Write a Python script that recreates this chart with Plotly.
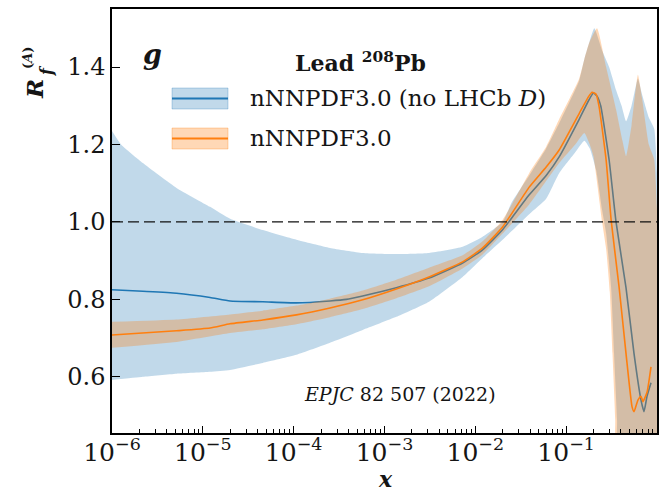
import plotly.graph_objects as go

# ---------------- data ----------------
# x given as log10(x)
blue_up_lx = [-6.0, -5.9, -5.66, -5.29, -4.92, -4.70, -4.34, -3.97, -3.60, -3.24, -2.87, -2.51, -2.14, -1.92,
              -1.70, -1.6, -1.407, -1.22, -1.077, -0.857, -0.80, -0.75, -0.69, -0.60, -0.527, -0.45, -0.39,
              -0.34, -0.28, -0.21, -0.165, -0.09, -0.03]
blue_up = [1.235, 1.20, 1.152, 1.088, 1.039, 1.008, 0.979, 0.954, 0.933, 0.92, 0.917, 0.92, 0.936, 0.962,
           1.0, 1.05, 1.12, 1.19, 1.255, 1.365, 1.42, 1.46, 1.50, 1.44, 1.40, 1.34, 1.30,
           1.26, 1.30, 1.37, 1.33, 1.27, 1.24]

blue_lo_lx = [-6.0, -5.66, -5.29, -4.92, -4.70, -4.34, -3.97, -3.60, -3.24, -2.87, -2.51, -2.14, -1.92,
              -1.70, -1.407, -1.22, -1.077, -0.90, -0.80, -0.74, -0.67, -0.604, -0.56, -0.505, -0.473,
              -0.44, -0.42, -0.03]
blue_lo = [0.592, 0.60, 0.608, 0.613, 0.618, 0.636, 0.657, 0.688, 0.721, 0.755, 0.794, 0.858, 0.907,
           0.954, 1.02, 1.06, 1.126, 1.18, 1.21, 1.19, 1.134, 1.03, 0.97, 0.83, 0.66,
           0.49, 0.30, 0.30]

orange_up_lx = [-6.0, -5.29, -4.70, -4.34, -3.97, -3.60, -3.24, -2.87, -2.51, -2.14, -1.92, -1.70, -1.407,
                -1.22, -1.077, -0.857, -0.80, -0.75, -0.66, -0.56, -0.45, -0.38, -0.34, -0.28, -0.21,
                -0.165, -0.09, -0.03]
orange_up = [0.742, 0.748, 0.761, 0.771, 0.784, 0.802, 0.823, 0.851, 0.882, 0.914, 0.95, 1.005, 1.126,
             1.194, 1.265, 1.37, 1.42, 1.46, 1.50, 1.40, 1.29, 1.21, 1.17, 1.25, 1.38,
             1.32, 1.20, 1.16]

orange_lo_lx = [-6.0, -5.29, -4.70, -4.34, -3.97, -3.60, -3.24, -2.87, -2.51, -2.14, -1.92, -1.70, -1.407,
                -1.077, -0.90, -0.80, -0.74, -0.70, -0.604, -0.56, -0.52, -0.49, -0.46, -0.44, -0.03]
orange_lo = [0.675, 0.69, 0.713, 0.723, 0.736, 0.754, 0.775, 0.803, 0.834, 0.88, 0.916, 0.97, 1.045,
             1.152, 1.20, 1.23, 1.20, 1.17, 1.0, 0.93, 0.82, 0.66, 0.49, 0.30, 0.30]

blue_c_lx = [-6.0, -5.66, -5.29, -4.92, -4.70, -4.34, -3.97, -3.60, -3.42, -3.24, -2.87, -2.51, -2.14, -1.92,
             -1.70, -1.60, -1.407, -1.22, -1.077, -0.857, -0.75, -0.70, -0.66, -0.62, -0.527, -0.451,
             -0.341, -0.253, -0.176, -0.143, -0.11, -0.066]
blue_c = [0.825, 0.821, 0.816, 0.805, 0.796, 0.794, 0.791, 0.796, 0.80, 0.809, 0.83, 0.855, 0.894, 0.928,
          0.98, 1.01, 1.07, 1.12, 1.168, 1.265, 1.315, 1.333, 1.325, 1.30, 1.16, 1.0,
          0.83, 0.66, 0.54, 0.51, 0.55, 0.585]

orange_c_lx = [-6.0, -5.29, -4.92, -4.70, -4.34, -3.97, -3.60, -3.24, -2.87, -2.51, -2.14, -1.92, -1.70,
               -1.407, -1.22, -1.077, -0.857, -0.75, -0.714, -0.67, -0.637, -0.56, -0.505, -0.418, -0.341,
               -0.275, -0.253, -0.21, -0.176, -0.155, -0.11, -0.066]
orange_c = [0.708, 0.719, 0.726, 0.737, 0.747, 0.76, 0.778, 0.799, 0.827, 0.858, 0.897, 0.933, 0.987,
            1.09, 1.142, 1.186, 1.28, 1.325, 1.335, 1.33, 1.297, 1.16, 1.005, 0.833, 0.66,
            0.523, 0.51, 0.54, 0.55, 0.536, 0.56, 0.626]

reference_level = 1.0

x_tick_vals = [1e-6, 1e-5, 1e-4, 1e-3, 1e-2, 1e-1, 1]
x_tick_text = ["10<sup>\u22126</sup>", "10<sup>\u22125</sup>", "10<sup>\u22124</sup>", "10<sup>\u22123</sup>",
               "10<sup>\u22122</sup>", "10<sup>\u22121</sup>", "1"]
y_tick_vals = [0.6, 0.8, 1.0, 1.2, 1.4]
y_tick_text = ["0.6", "0.8", "1.0", "1.2", "1.4"]

label_blue = "nNNPDF3.0 (no LHCb <i>D</i>)"
label_orange = "nNNPDF3.0"

# ---------------- figure ----------------
C0 = "#1f77b4"
C1 = "#ff7f0e"
C0_FILL = "rgba(31,119,180,0.28)"
C1_FILL = "rgba(255,127,14,0.30)"
SER = "DejaVu Serif"
TXT = "#151515"


def X(lx):
    return [10 ** v for v in lx]


SPL = dict(shape="spline", smoothing=0.45)

fig = go.Figure()
fig.add_trace(go.Scatter(x=X(blue_up_lx) + X(blue_lo_lx)[::-1], y=blue_up + blue_lo[::-1],
                         fill="toself", fillcolor=C0_FILL, mode="none", hoverinfo="skip",
                         line=SPL))
fig.add_trace(go.Scatter(x=X(blue_c_lx), y=blue_c, mode="lines",
                         line=dict(color=C0, width=1.6, **SPL)))
fig.add_trace(go.Scatter(x=X(orange_up_lx) + X(orange_lo_lx)[::-1], y=orange_up + orange_lo[::-1],
                         fill="toself", fillcolor=C1_FILL, mode="none", hoverinfo="skip",
                         line=SPL))
fig.add_trace(go.Scatter(x=X(orange_c_lx), y=orange_c, mode="lines",
                         line=dict(color=C1, width=1.6, **SPL)))

fig.add_hline(y=reference_level, line=dict(color="#111", width=1.2, dash="11px,5px"))

minor_vals = [m * 10 ** e for e in range(-6, 0) for m in range(2, 10)]

L, R, T, B = 112, 2, 9, 62
W, H = 659, 495
PW, PH = W - L - R, H - T - B


def px(xp):
    return (xp - L) / PW


def py(yp):
    return (H - B - yp) / PH


fig.update_layout(
    width=W, height=H, margin=dict(l=L, r=R, t=T, b=B, autoexpand=False),
    plot_bgcolor="white", paper_bgcolor="white", showlegend=False,
    xaxis=dict(type="log", range=[-6, 0], tickvals=x_tick_vals, ticktext=x_tick_text,
               ticks="inside", ticklen=7, tickwidth=1, tickcolor="black",
               showline=True, linecolor="black", linewidth=1.5, mirror=True,
               showgrid=False, zeroline=False, ticklabelstandoff=-4,
               tickfont=dict(family=SER, size=25, color=TXT),
               minor=dict(ticks="inside", ticklen=4, tickwidth=1, tickcolor="black",
                          tickvals=minor_vals, showgrid=False)),
    yaxis=dict(range=[0.455, 1.55], tickvals=y_tick_vals, ticktext=y_tick_text,
               ticks="inside", ticklen=8, tickwidth=1, tickcolor="black",
               showline=True, linecolor="black", linewidth=1.5, mirror=True,
               showgrid=False, zeroline=False,
               tickfont=dict(family=SER, size=24, color=TXT)),
)

ann = []
# y-axis title pieces (rotated)
ann.append(dict(text="<b><i>R</i></b>", x=px(35), y=py(89), textangle=-90,
                font=dict(family=SER, size=23, color=TXT)))
ann.append(dict(text="<b><i>f</i></b>", x=px(46), y=py(71), textangle=-90,
                font=dict(family=SER, size=16, color=TXT)))
ann.append(dict(text="<b>(<i>A</i>)</b>", x=px(27), y=py(58), textangle=-90,
                font=dict(family=SER, size=13, color=TXT)))
# x-axis title
ann.append(dict(text="<b><i>x</i></b>", x=px(385), y=py(494), yanchor="bottom",
                font=dict(family=SER, size=22, color=TXT)))
# panel labels
ann.append(dict(text="<b><i>g</i></b>", x=px(152), y=py(54),
                font=dict(family=SER, size=27, color=TXT)))
ann.append(dict(text="<b>Lead <sup>208</sup>Pb</b>", x=px(360), y=py(62),
                font=dict(family=SER, size=22, color=TXT)))
ann.append(dict(text=label_blue, x=px(248), y=py(98), xanchor="left",
                font=dict(family=SER, size=23, color=TXT)))
ann.append(dict(text=label_orange, x=px(248), y=py(138), xanchor="left",
                font=dict(family=SER, size=23, color=TXT)))
ann.append(dict(text="<i>EPJC</i> 82 507 (2022)", x=px(400), y=py(394),
                font=dict(family=SER, size=19, color=TXT)))
for a in ann:
    a.setdefault("xanchor", "center")
    a.setdefault("yanchor", "middle")
    a.update(xref="paper", yref="paper", showarrow=False)
fig.update_layout(annotations=ann)

# legend patches
shapes = []
for (yc, fillc, linec) in [(98.5, C0_FILL, C0), (138.5, C1_FILL, C1)]:
    shapes.append(dict(type="rect", xref="paper", yref="paper", x0=px(172), x1=px(228),
                       y0=py(yc + 10.5), y1=py(yc - 10.5), fillcolor=fillc,
                       line=dict(color=fillc, width=1)))
    shapes.append(dict(type="line", xref="paper", yref="paper", x0=px(172), x1=px(228),
                       y0=py(yc), y1=py(yc), line=dict(color=linec, width=2)))
fig.update_layout(shapes=list(fig.layout.shapes) + shapes)

fig.write_html("out.html")
